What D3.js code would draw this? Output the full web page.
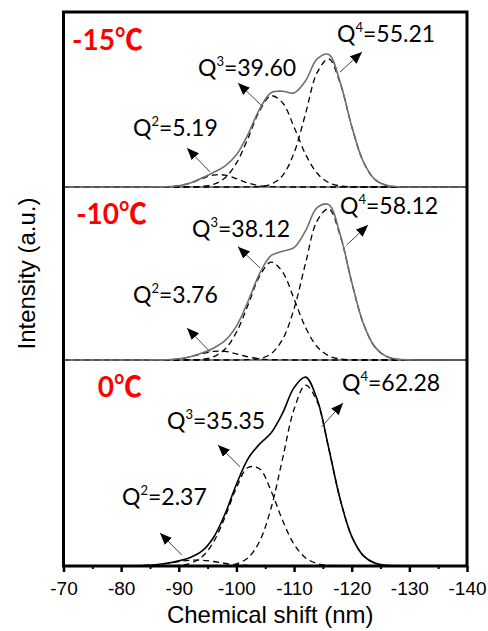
<!DOCTYPE html>
<html><head><meta charset="utf-8">
<script src="https://cdn.jsdelivr.net/npm/d3@7"></script>
<style>body{margin:0;background:#fff}</style>
</head><body>
<svg id="chart" width="488" height="631"></svg>
<script>
// ---------- DATA ----------
const shifts = [-70,-72,-74,-76,-78,-80,-82,-84,-86,-88,-90,-92,-94,-96,-98,-100,-102,-104,-106,-108,-110,-112,-114,-116,-118,-120,-122,-124,-126,-128,-130,-132,-134,-136,-138,-140];
const xTicks = [-70,-80,-90,-100,-110,-120,-130,-140];
const xMinorTicks = [-75,-85,-95,-105,-115,-125,-135];
const panelNames = ["-15℃","-10℃","0℃"];
const yMax = [175,173,206];
const qNames = ["2","3","4"];
const pct15 = [5.19,39.60,55.21];
const pct10 = [3.76,38.12,58.12];
const pct0  = [2.37,35.35,62.28];

const q2_15 = [0,0,0,0,0,0,0,0,0.1,0.3,1.3,4.0,8.3,11.9,11.9,8.3,4.0,1.3,0.3,0.1,0,0,0,0,0,0,0,0,0,0,0,0,0,0,0,0];
const q3_15 = [0,0,0,0,0,0,0,0,0,0,0,0.1,0.6,2.6,9.0,23.9,48.5,75.9,91.2,84.3,59.9,32.7,13.7,4.4,1.1,0.2,0,0,0,0,0,0,0,0,0,0];
const q4_15 = [0,0,0,0,0,0,0,0,0,0,0,0,0,0,0,0,0.1,0.5,2.8,11.4,34.2,73.6,114.4,128.2,103.7,60.5,25.5,7.7,1.7,0.3,0,0,0,0,0,0];

const q2_10 = [0,0,0,0,0,0,0,0,0.1,0.3,1.2,3.2,6.2,8.6,8.6,6.2,3.2,1.2,0.3,0.1,0,0,0,0,0,0,0,0,0,0,0,0,0,0,0,0];
const q3_10 = [0,0,0,0,0,0,0,0,0,0,0,0.1,0.7,3.2,10.7,27.7,54.9,83.6,97.9,88.1,61.0,32.4,13.3,4.2,1.0,0.2,0,0,0,0,0,0,0,0,0,0];
const q4_10 = [0,0,0,0,0,0,0,0,0,0,0,0,0,0,0,0,0.3,1.4,6.2,20.6,51.3,97.0,139.1,151.2,124.5,77.7,36.8,13.2,3.6,0.7,0.1,0,0,0,0,0];

const q2_0 = [0,0,0,0,0,0,0.1,0.5,1.3,2.7,4.5,5.8,5.8,4.5,2.7,1.3,0.5,0.1,0,0,0,0,0,0,0,0,0,0,0,0,0,0,0,0,0,0];
const q3_0 = [0,0,0,0,0,0,0,0,0,0.1,0.6,2.7,9.0,23.7,48.6,78.2,98.5,97.3,75.3,45.7,21.7,8.1,2.4,0.5,0.1,0,0,0,0,0,0,0,0,0,0,0];
const q4_0 = [0,0,0,0,0,0,0,0,0,0,0,0,0,0.1,0.5,2.2,8.2,24.5,57.7,107.1,156.7,180.8,164.4,117.8,66.6,29.6,10.4,2.9,0.6,0.1,0,0,0,0,0,0];

// ---------- ANNOTATION LAYOUT (data coordinates: shift, intensity) ----------
const annot = [
  { temp:[-83.8,137],
    label:[[-82.06,51],[-93.33,111],[-117.45,145]],
    from:[[-95.42,15],[-104.26,82],[-117.97,115]],
    to:[[-91.43,39],[-100.27,104],[-121.79,135]] },
  { temp:[-84.5,135.7],
    label:[[-82.06,57],[-92.29,123],[-117.97,145.7]],
    from:[[-95.42,8.3],[-104.09,92],[-119.13,115]],
    to:[[-91.43,32],[-100.27,113.3],[-122.83,135]] },
  { temp:[-83.6,169.3],
    label:[[-80.15,61],[-87.96,137],[-118.32,175.3]],
    from:[[-90.51,11],[-100.62,99.3],[-114.79,139.3]],
    to:[[-86.74,33],[-96.80,121],[-118.49,163]] }
];

const panels = [
  {name:panelNames[0], comps:[q2_15,q3_15,q4_15], pct:pct15, solidColor:"#707070"},
  {name:panelNames[1], comps:[q2_10,q3_10,q4_10], pct:pct10, solidColor:"#707070"},
  {name:panelNames[2], comps:[q2_0,q3_0,q4_0],   pct:pct0,  solidColor:"#000"}
];

// ---------- DRAW ----------
const svg = d3.select("#chart");
const mTop = 12, mBottom = 566, mLeft = 63.5, mRight = 467;
const x = d3.scaleLinear().domain([-70,-140]).range([mLeft,mRight]);
const pxPer = (mBottom-mTop)/d3.sum(yMax);

const defs = svg.append("defs");
defs.append("marker").attr("id","ah").attr("markerUnits","userSpaceOnUse")
  .attr("markerWidth",13).attr("markerHeight",11).attr("refX",12).attr("refY",5)
  .attr("orient","auto")
  .append("path").attr("d","M0,0 L12,5 L0,10 Z").attr("fill","#000");

let cursor = mTop;
panels.forEach((p,i)=>{
  const h = yMax[i]*pxPer;
  const y = d3.scaleLinear().domain([0,yMax[i]]).range([cursor+h, cursor]);
  const g = svg.append("g");
  if (i < panels.length-1) {
    g.append("line").attr("x1",mLeft).attr("x2",mRight)
      .attr("y1",y(0)).attr("y2",y(0)).attr("stroke","#555").attr("stroke-width",1.5);
  }
  const line = d3.line().x((d,k)=>x(shifts[k])).y(d=>y(d)).curve(d3.curveCatmullRom.alpha(0.5));
  const total = shifts.map((s,k)=>d3.sum(p.comps, c=>c[k]));
  p.comps.forEach(c=>{
    g.append("path").attr("d",line(c)).attr("fill","none")
      .attr("stroke","#000").attr("stroke-width",1.3).attr("stroke-dasharray","6,4");
  });
  g.append("path").attr("d",line(total)).attr("fill","none")
    .attr("stroke",p.solidColor).attr("stroke-width",1.6);

  const a = annot[i];
  g.append("text").attr("x",x(a.temp[0])).attr("y",y(a.temp[1]))
    .attr("text-anchor","end").attr("font-family","Lato, 'Noto Sans CJK SC', sans-serif")
    .attr("font-weight","bold").attr("font-size",28).attr("fill","#ff0000").text(p.name);
  qNames.forEach((q,j)=>{
    g.append("line").attr("x1",x(a.from[j][0])).attr("y1",y(a.from[j][1]))
      .attr("x2",x(a.to[j][0])).attr("y2",y(a.to[j][1]))
      .attr("stroke","#444").attr("stroke-width",1).attr("marker-end","url(#ah)");
    const t = g.append("text").attr("x",x(a.label[j][0])).attr("y",y(a.label[j][1]))
      .attr("font-family","Lato, sans-serif").attr("font-size",23).attr("fill","#000");
    t.append("tspan").text("Q");
    t.append("tspan").attr("font-size",13).attr("dy",-10).text(q);
    t.append("tspan").attr("dy",10).text("=" + p.pct[j].toFixed(2));
  });
  cursor += h;
});

svg.append("rect").attr("x",mLeft).attr("y",mTop).attr("width",mRight-mLeft).attr("height",mBottom-mTop)
  .attr("fill","none").attr("stroke","#000").attr("stroke-width",3);

const ax = svg.append("g").attr("transform",`translate(0,${mBottom})`)
  .call(d3.axisBottom(x).tickValues(xTicks).tickSize(6).tickFormat(d => String(d)));
ax.select(".domain").remove();
ax.selectAll(".tick line").attr("stroke","#000").attr("stroke-width",2.5);
ax.selectAll(".tick text").attr("y",29).attr("dy",0)
  .attr("font-family","'Liberation Sans', Arial, sans-serif").attr("font-size",19).attr("fill","#000");
const axm = svg.append("g").attr("transform",`translate(0,${mBottom})`)
  .call(d3.axisBottom(x).tickValues(xMinorTicks).tickSize(3).tickFormat(""));
axm.select(".domain").remove();
axm.selectAll(".tick line").attr("stroke","#000").attr("stroke-width",2);

svg.append("text").attr("x",(mLeft+mRight)/2+5).attr("y",623).attr("text-anchor","middle")
  .attr("font-family","'Liberation Sans', Arial, sans-serif").attr("font-size",24).attr("fill","#000")
  .text("Chemical shift (nm)");
svg.append("text").attr("transform","translate(35,273.5) rotate(-90)").attr("text-anchor","middle")
  .attr("font-family","'Liberation Sans', Arial, sans-serif").attr("font-size",24).attr("fill","#000")
  .text("Intensity (a.u.)");
</script>
</body></html>
